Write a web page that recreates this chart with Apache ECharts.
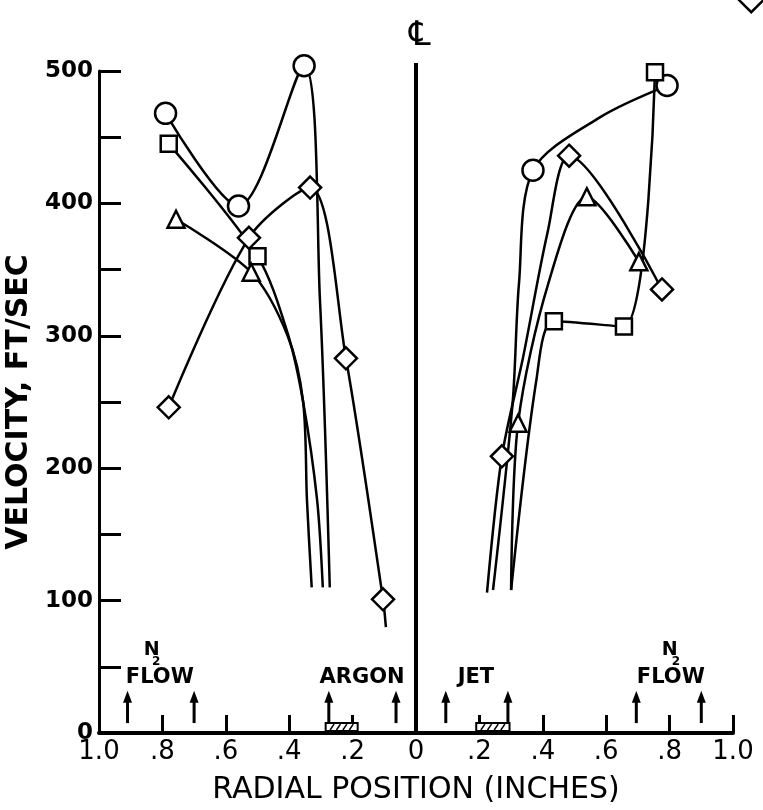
<!DOCTYPE html>
<html>
<head>
<meta charset="utf-8">
<script src="https://cdn.jsdelivr.net/npm/echarts@6/dist/echarts.min.js"></script>
<style>
html, body { margin: 0; padding: 0; background: #fff; }
#chart { width: 763px; height: 810px; }
</style>
</head>
<body>
<div id="chart"></div>
<script>
// [radial position (in.), velocity (ft/sec), 1 = plotted symbol, 0 = curve only]
const circleLeft = [[-0.79, 468, 1], [-0.56, 398, 1], [-0.353, 504, 1], [-0.303, 327, 0], [-0.272, 110, 0]];
const squareLeft = [[-0.78, 445, 1], [-0.50, 360, 1], [-0.405, 302, 0], [-0.356, 250, 0], [-0.312, 176, 0], [-0.294, 110, 0]];
const triangleLeft = [[-0.757, 388, 1], [-0.52, 348, 1], [-0.405, 300, 0], [-0.356, 250, 0], [-0.344, 176, 0], [-0.329, 110, 0]];
const diamondLeft = [[-0.78, 246, 1], [-0.527, 374, 1], [-0.334, 412, 1], [-0.221, 283, 1], [-0.104, 101, 1], [-0.095, 80, 0]];

const circleRight = [[0.243, 108, 0], [0.305, 250, 0], [0.325, 340, 0], [0.369, 425, 1], [0.58, 465, 0], [0.792, 489, 1]];
const squareRight = [[0.30, 108, 0], [0.38, 267, 0], [0.435, 311, 1], [0.656, 307, 1], [0.754, 499, 1]];
const triangleRight = [[0.30, 108, 0], [0.322, 234, 1], [0.418, 340, 0], [0.539, 405, 1], [0.703, 356, 1]];
const diamondRight = [[0.224, 106, 0], [0.271, 209, 1], [0.338, 284, 0], [0.415, 378, 0], [0.483, 436, 1], [0.776, 335, 1]];

const centerLine = [[0, 0], [0, 506]];

const arrowX = [-0.91, -0.70, -0.275, -0.063, 0.094, 0.29, 0.695, 0.90];
const arrowSpan = [7.5, 32];
const hatchBoxes = [[-0.285, -0.184], [0.19, 0.295]];
const hatchSpan = [1.5, 7.5];

const notes = [[-0.808, 42, "FLOW"], [-0.17, 42, "ARGON"], [0.189, 42, "JET"], [0.804, 42, "FLOW"]];
const n2Notes = [[-0.834, 62.5, "N"], [0.80, 62.5, "N"]];
const n2Subs = [[-0.82, 54, "2"], [0.82, 54, "2"]];

const FONT = "DejaVu Sans";

function xLabel(v) {
    const a = Math.round(Math.abs(v) * 10);
    if (a === 0) return "0";
    if (a === 10) return "1.0";
    return "." + a;
}

function curve(name, points, symbol, size) {
    return {
        name,
        type: "line",
        clip: false,
        smooth: 0.3,
        symbol,
        symbolSize: size,
        showSymbol: true,
        lineStyle: { color: "#000", width: 2.5 },
        itemStyle: { color: "#fff", borderColor: "#000", borderWidth: 2.5 },
        data: points.map(p => p[2] ? { value: [p[0], p[1]] } : { value: [p[0], p[1]], symbol: "none" }),
        z: 3
    };
}

function textSeries(items, size, weight) {
    return {
        type: "scatter",
        symbolSize: 0,
        silent: true,
        clip: false,
        data: items,
        itemStyle: { opacity: 1 },
        label: {
            show: true,
            position: "inside",
            formatter: p => p.data[2],
            color: "#000",
            opacity: 1,
            fontFamily: FONT,
            fontSize: size,
            fontWeight: weight
        },
        z: 4
    };
}

const chart = echarts.init(document.getElementById("chart"), null, { renderer: "canvas" });

chart.setOption({
    animation: false,
    backgroundColor: "#fff",
    title: {
        text: "\u2104",
        left: 404,
        top: 14,
        textStyle: { fontFamily: FONT, fontSize: 34, fontWeight: "normal", color: "#000" }
    },
    legend: {
        data: [{ name: "diamondRight", icon: "diamond" }],
        left: 733,
        top: -18,
        itemWidth: 24,
        itemHeight: 24,
        selectedMode: false,
        formatter: () => "",
        itemStyle: { color: "#fff", borderColor: "#000", borderWidth: 2.5 }
    },
    grid: { left: 99, right: 30, top: 71, bottom: 77, outerBoundsMode: "none" },
    xAxis: {
        type: "value",
        min: -1,
        max: 1,
        interval: 0.2,
        name: "RADIAL POSITION (INCHES)",
        nameLocation: "middle",
        nameGap: 42,
        nameTextStyle: { fontFamily: FONT, fontSize: 30, color: "#000" },
        axisLine: { onZero: false, lineStyle: { color: "#000", width: 4 } },
        axisTick: { inside: true, length: 18, lineStyle: { color: "#000", width: 3 } },
        axisLabel: { formatter: xLabel, fontFamily: FONT, fontSize: 26, color: "#000", margin: 6 },
        splitLine: { show: false }
    },
    yAxis: {
        type: "value",
        min: 0,
        max: 500,
        interval: 50,
        name: "VELOCITY, FT/SEC",
        nameLocation: "middle",
        nameGap: 53,
        nameRotate: 90,
        nameTextStyle: { fontFamily: FONT, fontSize: 30, fontWeight: "bold", color: "#000" },
        axisLine: { onZero: false, lineStyle: { color: "#000", width: 3 } },
        axisTick: { inside: true, length: 22, lineStyle: { color: "#000", width: 3 } },
        axisLabel: {
            formatter: v => (v % 100 === 0 ? String(v) : ""),
            fontFamily: FONT, fontSize: 23, fontWeight: "bold", color: "#000", margin: 6
        },
        splitLine: { show: false }
    },
    series: [
        {
            type: "line",
            clip: false,
            symbol: "none",
            lineStyle: { color: "#000", width: 4 },
            data: centerLine,
            z: 2
        },
        curve("circleLeft", circleLeft, "circle", 21),
        curve("squareLeft", squareLeft, "rect", 16),
        curve("triangleLeft", triangleLeft, "triangle", 17),
        curve("diamondLeft", diamondLeft, "diamond", 22),
        curve("circleRight", circleRight, "circle", 21),
        curve("squareRight", squareRight, "rect", 16),
        curve("triangleRight", triangleRight, "triangle", 17),
        curve("diamondRight", diamondRight, "diamond", 22),
        {
            type: "custom",
            clip: false,
            silent: true,
            data: arrowX.map(x => [x, arrowSpan[1]]),
            renderItem(params, api) {
                const x = api.value(0);
                const base = api.coord([x, arrowSpan[0]]);
                const tip = api.coord([x, arrowSpan[1]]);
                return {
                    type: "group",
                    children: [
                        {
                            type: "line",
                            shape: { x1: base[0], y1: base[1], x2: tip[0], y2: tip[1] + 8 },
                            style: { stroke: "#000", lineWidth: 3 }
                        },
                        {
                            type: "polygon",
                            shape: { points: [[tip[0], tip[1]], [tip[0] - 4.5, tip[1] + 12], [tip[0] + 4.5, tip[1] + 12]] },
                            style: { fill: "#000" }
                        }
                    ]
                };
            },
            z: 4
        },
        {
            type: "custom",
            clip: false,
            silent: true,
            encode: { x: [0, 1], y: [2, 3] },
            data: hatchBoxes.map(b => [b[0], b[1], hatchSpan[0], hatchSpan[1]]),
            renderItem(params, api) {
                const p0 = api.coord([api.value(0), api.value(3)]);
                const p1 = api.coord([api.value(1), api.value(2)]);
                const w = p1[0] - p0[0];
                const h = p1[1] - p0[1];
                const slashes = [];
                for (let i = 1; i <= 4; i++) {
                    const sx = p0[0] + w * (i / 5);
                    slashes.push({
                        type: "line",
                        shape: { x1: sx - 2, y1: p1[1] - 1, x2: sx + 2, y2: p0[1] + 1 },
                        style: { stroke: "#000", lineWidth: 1.5 }
                    });
                }
                return {
                    type: "group",
                    children: [
                        {
                            type: "rect",
                            shape: { x: p0[0], y: p0[1], width: w, height: h },
                            style: { fill: "#fff", stroke: "#000", lineWidth: 2 }
                        }
                    ].concat(slashes)
                };
            },
            z: 4
        },
        textSeries(notes, 21, "bold"),
        textSeries(n2Notes, 19, "bold"),
        textSeries(n2Subs, 12, "bold")
    ]
});
</script>
</body>
</html>
